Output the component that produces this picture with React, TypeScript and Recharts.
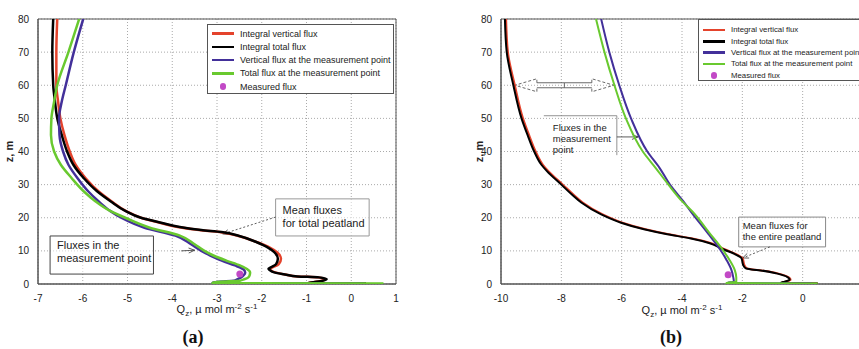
import React from 'react';
import {
  ScatterChart, Scatter, XAxis, YAxis, CartesianGrid, ReferenceArea, ReferenceLine, Legend,
} from 'recharts';

// panel (a): vertical profiles of CO2 flux
const aMeanZ = [80, 70, 60, 55, 50, 45, 40, 36, 32, 28, 25, 22, 20, 18.5, 17.2, 16.3, 15.7, 14.5, 12.6, 11, 9.6, 7.6, 6, 5, 4.6, 4.2, 3.5, 2.8, 2.3, 2, 1.5, 0.9, 0.5, 0.32, 0.22, 0.15];
const aRedQ = [-6.57, -6.59, -6.59, -6.55, -6.5, -6.41, -6.29, -6.16, -5.94, -5.65, -5.36, -5.03, -4.7, -4.28, -3.88, -3.4, -2.95, -2.52, -2.1, -1.82, -1.66, -1.57, -1.62, -1.76, -1.82, -1.8, -1.7, -1.45, -1.2, -0.75, -0.58, -0.68, -0.86, -0.95, -0.7, 0.33];
const aBlackQ = [-6.66, -6.68, -6.66, -6.62, -6.57, -6.47, -6.35, -6.21, -5.98, -5.68, -5.38, -5.04, -4.7, -4.25, -3.83, -3.35, -2.9, -2.5, -2.11, -1.86, -1.72, -1.64, -1.68, -1.8, -1.85, -1.82, -1.72, -1.45, -1.2, -0.72, -0.55, -0.66, -0.85, -0.95, -0.7, 0.33];
const aPointZ = [80, 70, 60, 55, 50, 45, 40, 36, 32, 28, 25, 22, 20, 17, 14.6, 12, 10, 8.6, 7, 5.6, 4.5, 3.5, 2.7, 2, 1.4, 1, 0.7, 0.45, 0.28, 0.15];
const aBlueQ = [-5.99, -6.2, -6.38, -6.47, -6.53, -6.52, -6.44, -6.32, -6.12, -5.88, -5.65, -5.38, -5.14, -4.62, -3.93, -3.58, -3.35, -3.15, -2.88, -2.6, -2.42, -2.37, -2.4, -2.46, -2.55, -2.62, -2.95, -3.08, -3.1, 0.3];
const aGreenQ = [-6.08, -6.32, -6.57, -6.64, -6.7, -6.71, -6.64, -6.49, -6.25, -5.98, -5.72, -5.38, -5.05, -4.5, -3.83, -3.5, -3.28, -3.08, -2.78, -2.49, -2.33, -2.26, -2.27, -2.3, -2.4, -2.49, -2.93, -3.08, -3.1, 0.72];
const aMeasQ = [-2.49];
const aMeasZ = [3];
const aXTicks = [-7, -6, -5, -4, -3, -2, -1, 0, 1];

// panel (b)
const bMeanZ = [80, 70, 60, 50, 45, 40, 36, 34, 30, 27, 24.6, 21, 18.5, 16.5, 15, 13.8, 12.3, 10.5, 8.8, 7.8, 5.7, 4.7, 4.4, 4.1, 3.2, 2, 1.3, 0.7, 0.38, 0.25, 0.15];
const bRedQ = [-9.83, -9.77, -9.54, -9.27, -9.07, -8.85, -8.61, -8.42, -7.95, -7.6, -7.29, -6.63, -5.97, -5.21, -4.44, -3.69, -3.03, -2.59, -2.16, -1.99, -1.93, -1.84, -1.66, -1.36, -0.83, -0.46, -0.4, -0.57, -0.7, -0.6, 0.5];
const bBlackQ = [-9.87, -9.81, -9.59, -9.32, -9.12, -8.9, -8.66, -8.47, -8.0, -7.65, -7.34, -6.68, -6.02, -5.26, -4.49, -3.74, -3.08, -2.64, -2.2, -2.03, -1.97, -1.88, -1.7, -1.4, -0.87, -0.49, -0.43, -0.6, -0.72, -0.6, 0.5];
const bPointZ = [80, 70, 60, 50, 40, 35, 30, 25, 21.8, 15.3, 10.2, 7.2, 4.2, 2, 0.7, 0.3, 0.15];
const bBlueQ = [-6.68, -6.41, -6.08, -5.69, -5.15, -4.74, -4.4, -3.96, -3.7, -3.14, -2.72, -2.52, -2.36, -2.3, -2.28, -2.5, 0.3];
const bGreenQ = [-6.85, -6.57, -6.24, -5.86, -5.3, -4.87, -4.45, -4.0, -3.65, -3.08, -2.64, -2.42, -2.25, -2.2, -2.2, -2.53, 0.5];
const bMeasQ = [-2.47];
const bMeasZ = [2.8];
const bXTicks = [-10, -8, -6, -4, -2, 0];

const zTicks = [0, 10, 20, 30, 40, 50, 60, 70, 80];

const legendNames = [
  'Integral vertical flux',
  'Integral total flux',
  'Vertical flux at the measurement point',
  'Total flux at the measurement point',
  'Measured flux',
];

const RED = '#e4432c';
const BLACK = '#000000';
const BLUE = '#43309a';
const GREEN = '#69c92f';
const MAGENTA = '#c249c6';
const colors = [RED, BLACK, BLUE, GREEN, MAGENTA];
const FONT = '"Liberation Sans", Arial, sans-serif';

const rows = (qs: number[], zs: number[]) => qs.map((q, i) => ({ q, z: zs[i] }));
const noDot = () => <g />;
const measDot = (p: any) => <circle cx={p.cx} cy={p.cy} r={3.5} fill={MAGENTA} />;

const arrow = (dash?: string) => (p: any) => {
  const { x1, y1, x2, y2 } = p;
  const a = Math.atan2(y2 - y1, x2 - x1);
  const L = 6, W = 2.5;
  const bx = x2 - L * Math.cos(a), by = y2 - L * Math.sin(a);
  const nx = -Math.sin(a) * W, ny = Math.cos(a) * W;
  return (
    <g>
      <line x1={x1} y1={y1} x2={x2} y2={y2} stroke="#333" strokeWidth={0.8} strokeDasharray={dash} />
      <path d={`M${bx + nx},${by + ny} L${x2},${y2} L${bx - nx},${by - ny}`} fill="none" stroke="#333" strokeWidth={0.8} />
    </g>
  );
};

const doubleArrow = (p: any) => {
  const { x1, y1, x2 } = p;
  const xm = (x1 + x2) / 2;
  const hl = 22, hh = 6.5, sh = 2.5;
  return (
    <g fill="none" stroke="#444" strokeWidth={0.8}>
      <path d={`M${x1 + hl},${y1 - sh} L${x1 + hl},${y1 - hh} L${x1},${y1} L${x1 + hl},${y1 + hh} L${x1 + hl},${y1 + sh}`} strokeDasharray="3 2" />
      <path d={`M${x1 + hl},${y1 - sh} L${xm},${y1 - sh} L${xm},${y1 + sh} L${x1 + hl},${y1 + sh}`} />
      <path d={`M${x2 - hl},${y1 - sh} L${x2 - hl},${y1 - hh} L${x2},${y1} L${x2 - hl},${y1 + hh} L${x2 - hl},${y1 + sh}`} strokeDasharray="3 2" />
      <path d={`M${xm},${y1 - sh} L${x2 - hl},${y1 - sh} M${xm},${y1 + sh} L${x2 - hl},${y1 + sh}`} />
    </g>
  );
};

const boxText = (lines: string[], size: number, lineH: number, padX: number, padY: number, partial?: boolean) => (p: any) => {
  const { x, y, width, height } = p.viewBox;
  return (
    <g>
      {partial && (
        <path d={`M${x},${y} L${x + width},${y} L${x + width},${y + height}`} fill="none" stroke="#777" strokeWidth={0.8} />
      )}
      {lines.map((t, i) => (
        <text key={i} x={x + padX} y={y + padY + i * lineH} fontSize={size} fontFamily={FONT} fill="#222">{t}</text>
      ))}
    </g>
  );
};

const xTitle = (dy: number) => (p: any) => {
  const { x, y, width } = p.viewBox;
  return (
    <text x={x + width / 2} y={y + dy} textAnchor="middle" fontSize={11} fontFamily={FONT} fill="#222">
      Q<tspan fontSize={8} dy={3}>z</tspan><tspan dy={-3}>, µ mol m</tspan>
      <tspan fontSize={8} dy={-4}>-2</tspan><tspan dy={4}> s</tspan>
      <tspan fontSize={8} dy={-4}>-1</tspan>
    </text>
  );
};

const yTitle = (dx: number) => (p: any) => {
  const { x, y, height } = p.viewBox;
  const cy = y + height / 2;
  return (
    <text x={x + dx} y={cy} transform={`rotate(-90 ${x + dx} ${cy})`} textAnchor="middle"
      dominantBaseline="middle" fontSize={11} fontWeight="bold" fontFamily={FONT} fill="#222">z, m</text>
  );
};

const LegendBox = ({ width, height, size, rowH, top }: any) => (
  <div style={{ width, height, boxSizing: 'border-box', border: '1px solid #555', background: '#fff', fontFamily: FONT, fontSize: size, color: '#222', position: 'relative' }}>
    {legendNames.map((name, i) => (
      <div key={name} style={{ position: 'absolute', left: 0, top: top + i * rowH - rowH / 2, height: rowH, display: 'flex', alignItems: 'center', whiteSpace: 'nowrap' }}>
        <div style={{ width: 22, marginLeft: 4, marginRight: 6, display: 'flex', justifyContent: 'center' }}>
          {i < 4
            ? <div style={{ width: 22, height: 2.5, background: colors[i] }} />
            : <div style={{ width: 6.5, height: 6.5, borderRadius: '50%', background: colors[i] }} />}
        </div>
        <span>{name}</span>
      </div>
    ))}
  </div>
);

const tickStyle = { fontSize: 10, fill: '#222', fontFamily: FONT };

export default function App() {
  return (
    <div style={{ position: 'absolute', left: 0, top: 0, width: 859, height: 349, overflow: 'hidden', background: '#fff' }}>
      <div style={{ position: 'absolute', left: 0, top: 0 }}>
        <ScatterChart width={430} height={349} margin={{ top: 19, right: 34, bottom: 35, left: 0 }}>
          <CartesianGrid stroke="#aaa" strokeDasharray="1 2" />
          <XAxis type="number" dataKey="q" domain={[-7, 1]} ticks={aXTicks} interval={0} allowDataOverflow
            tick={tickStyle} tickLine={false} tickMargin={5} height={30} axisLine={{ stroke: '#555' }}
            label={{ content: xTitle(29) }} />
          <YAxis type="number" dataKey="z" domain={[0, 80]} ticks={zTicks} interval={0} allowDataOverflow
            tick={tickStyle} tickLine={false} tickMargin={3} width={38} axisLine={{ stroke: '#555' }}
            label={{ content: yTitle(10) }} />
          <ReferenceArea x1={-7} x2={1} y1={0} y2={80} fill="none" stroke="#555" />
          <ReferenceArea x1={-1.69} x2={0.4} y1={14.5} y2={25.7} fill="#fff" stroke="#999"
            label={{ content: boxText(['Mean fluxes', 'for total peatland'], 11, 13, 7, 15) }} />
          <ReferenceArea x1={-6.73} x2={-4.42} y1={3} y2={14.5} fill="#fff" stroke="#444"
            label={{ content: boxText(['Fluxes in the', 'measurement point'], 11, 13, 7, 13) }} />
          <ReferenceLine segment={[{ x: -1.69, y: 20.2 }, { x: -2.87, y: 15.1 }]} shape={arrow('2 2')} />
          <ReferenceLine segment={[{ x: -3.8, y: 10.0 }, { x: -3.5, y: 10.2 }]} shape={arrow()} />
          <Scatter name={legendNames[0]} data={rows(aRedQ, aMeanZ)} fill={RED} stroke={RED} lineJointType="monotoneY"
            line={{ stroke: RED, strokeWidth: 2.5 }} shape={noDot} isAnimationActive={false} />
          <Scatter name={legendNames[1]} data={rows(aBlackQ, aMeanZ)} fill={BLACK} stroke={BLACK} lineJointType="monotoneY"
            line={{ stroke: BLACK, strokeWidth: 2.5 }} shape={noDot} isAnimationActive={false} />
          <Scatter name={legendNames[2]} data={rows(aBlueQ, aPointZ)} fill={BLUE} stroke={BLUE} lineJointType="monotoneY"
            line={{ stroke: BLUE, strokeWidth: 2.5 }} shape={noDot} isAnimationActive={false} />
          <Scatter name={legendNames[3]} data={rows(aGreenQ, aPointZ)} fill={GREEN} stroke={GREEN} lineJointType="monotoneY"
            line={{ stroke: GREEN, strokeWidth: 2.5 }} shape={noDot} isAnimationActive={false} />
          <Scatter name={legendNames[4]} data={rows(aMeasQ, aMeasZ)} fill={MAGENTA} shape={measDot} isAnimationActive={false} />
          <Legend layout="horizontal" verticalAlign="middle" align="center"
            wrapperStyle={{ position: 'absolute', left: 207, top: 24, width: 187, height: 70 }}
            content={() => <LegendBox width={187} height={70} size={9} rowH={13.25} top={8.7} />} />
        </ScatterChart>
      </div>

      <div style={{ position: 'absolute', left: 430, top: 0 }}>
        <ScatterChart width={460} height={349} margin={{ top: 19, right: 27, bottom: 35, left: 0 }}>
          <CartesianGrid stroke="#aaa" strokeDasharray="1 2" />
          <XAxis type="number" dataKey="q" domain={[-10, 2]} ticks={bXTicks} interval={0} allowDataOverflow
            tick={tickStyle} tickLine={false} tickMargin={5} height={30} axisLine={{ stroke: '#555' }}
            label={{ content: xTitle(30) }} />
          <YAxis type="number" dataKey="z" domain={[0, 80]} ticks={zTicks} interval={0} allowDataOverflow
            tick={tickStyle} tickLine={false} tickMargin={3} width={71} axisLine={{ stroke: '#555' }}
            label={{ content: yTitle(50) }} />
          <ReferenceArea x1={-10} x2={2} y1={0} y2={80} fill="none" stroke="#555" />
          <ReferenceArea x1={-8.58} x2={-6.16} y1={38.9} y2={50.8} fill="none" stroke="none"
            label={{ content: boxText(['Fluxes in the', 'measurement', 'point'], 9.5, 11, 9, 15, true) }} />
          <ReferenceArea x1={-2.12} x2={0.76} y1={11.2} y2={20.2} fill="#fff" stroke="#888"
            label={{ content: boxText(['Mean fluxes for', 'the entire peatland'], 9.5, 11, 4, 12) }} />
          <ReferenceLine segment={[{ x: -6.16, y: 44.4 }, { x: -5.46, y: 44.4 }]} shape={arrow()} />
          <ReferenceLine segment={[{ x: -1.09, y: 11.2 }, { x: -1.99, y: 7.85 }]} shape={arrow('2 2')} />
          <ReferenceLine segment={[{ x: -9.54, y: 60 }, { x: -6.26, y: 60 }]} shape={doubleArrow} />
          <Scatter name={legendNames[0]} data={rows(bRedQ, bMeanZ)} fill={RED} stroke={RED} lineJointType="monotoneY"
            line={{ stroke: RED, strokeWidth: 2 }} shape={noDot} isAnimationActive={false} />
          <Scatter name={legendNames[1]} data={rows(bBlackQ, bMeanZ)} fill={BLACK} stroke={BLACK} lineJointType="monotoneY"
            line={{ stroke: BLACK, strokeWidth: 2 }} shape={noDot} isAnimationActive={false} />
          <Scatter name={legendNames[2]} data={rows(bBlueQ, bPointZ)} fill={BLUE} stroke={BLUE} lineJointType="monotoneY"
            line={{ stroke: BLUE, strokeWidth: 2 }} shape={noDot} isAnimationActive={false} />
          <Scatter name={legendNames[3]} data={rows(bGreenQ, bPointZ)} fill={GREEN} stroke={GREEN} lineJointType="monotoneY"
            line={{ stroke: GREEN, strokeWidth: 2 }} shape={noDot} isAnimationActive={false} />
          <Scatter name={legendNames[4]} data={rows(bMeasQ, bMeasZ)} fill={MAGENTA} shape={measDot} isAnimationActive={false} />
          <Legend layout="horizontal" verticalAlign="middle" align="center"
            wrapperStyle={{ position: 'absolute', left: 268, top: 19, width: 166, height: 62 }}
            content={() => <LegendBox width={166} height={62} size={7.8} rowH={11.33} top={10} />} />
        </ScatterChart>
      </div>

      <div style={{ position: 'absolute', left: 153, top: 327, width: 80, textAlign: 'center', fontFamily: '"Liberation Serif", serif', fontWeight: 'bold', fontSize: 18, lineHeight: '20px', color: '#111' }}>(a)</div>
      <div style={{ position: 'absolute', left: 631, top: 327, width: 80, textAlign: 'center', fontFamily: '"Liberation Serif", serif', fontWeight: 'bold', fontSize: 18, lineHeight: '20px', color: '#111' }}>(b)</div>
    </div>
  );
}
